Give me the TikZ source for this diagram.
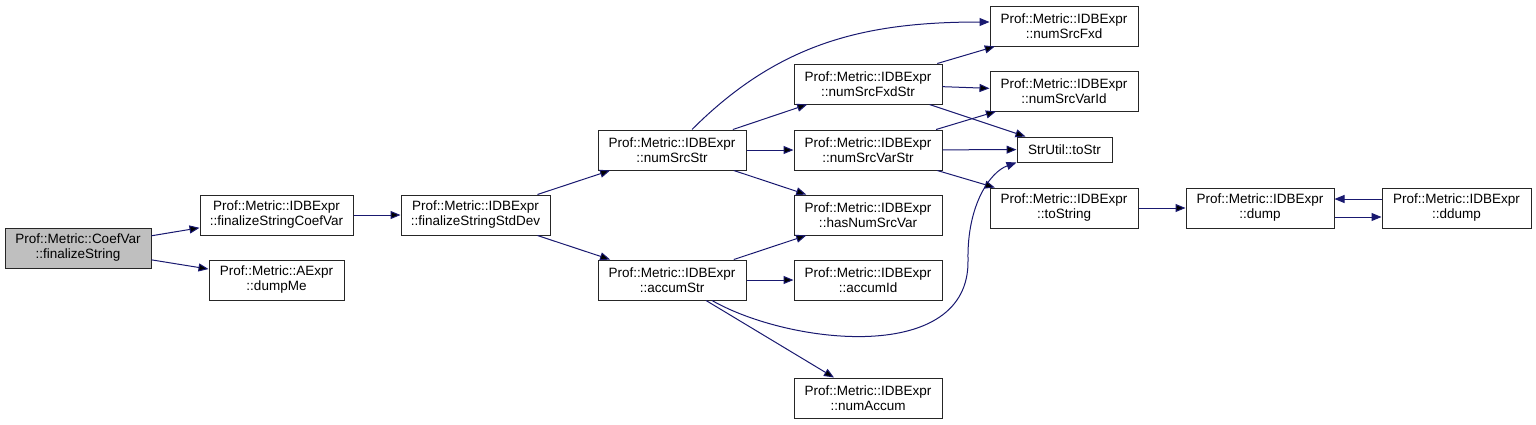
\documentclass[tikz,border=0pt]{standalone}
\usepackage{fontspec}
\setmainfont{Liberation Sans}
\usepackage{tikz}
\usetikzlibrary{arrows.meta}
\definecolor{edgeblue}{HTML}{191970}
\definecolor{startgray}{HTML}{BFBFBF}

\begin{document}
\begin{tikzpicture}[x=1pt,y=-1pt,
  fn/.style={draw=black!85,line width=1pt,minimum width=148pt,minimum height=40pt,inner sep=0pt,align=center,font=\fontsize{13.5}{15}\selectfont},
  call/.style={draw=edgeblue,line width=1pt,->,>={Triangle[length=10pt,width=8pt]}}]
\useasboundingbox (0,0) rectangle (1536,424);

\node[fn,fill=startgray,minimum width=146pt] (1) at (78,248) {Prof::Metric::CoefVar\\::finalizeString};

\node[fn,minimum width=153pt] (2) at (276.5,215) {Prof::Metric::IDBExpr\\::finalizeStringCoefVar};

\node[fn,minimum width=135pt] (3) at (276.5,280) {Prof::Metric::AExpr\\::dumpMe};

\node[fn,minimum width=149pt] (4) at (475.5,215) {Prof::Metric::IDBExpr\\::finalizeStringStdDev};

\node[fn] (5) at (672,150) {Prof::Metric::IDBExpr\\::numSrcStr};

\node[fn] (6) at (672,280) {Prof::Metric::IDBExpr\\::accumStr};

\node[fn] (7) at (868,84) {Prof::Metric::IDBExpr\\::numSrcFxdStr};

\node[fn] (8) at (868,150) {Prof::Metric::IDBExpr\\::numSrcVarStr};

\node[fn] (9) at (868,215) {Prof::Metric::IDBExpr\\::hasNumSrcVar};

\node[fn] (10) at (868,280) {Prof::Metric::IDBExpr\\::accumId};

\node[fn] (11) at (868,398) {Prof::Metric::IDBExpr\\::numAccum};

\node[fn] (12) at (1064,26) {Prof::Metric::IDBExpr\\::numSrcFxd};

\node[fn] (13) at (1064,91) {Prof::Metric::IDBExpr\\::numSrcVarId};

\node[fn,minimum width=95pt,minimum height=25pt] (14) at (1064.5,149.5) {StrUtil::toStr};

\node[fn] (15) at (1064,208) {Prof::Metric::IDBExpr\\::toString};

\node[fn] (16) at (1260,208) {Prof::Metric::IDBExpr\\::dump};

\node[fn,minimum width=149pt] (17) at (1456.5,208) {Prof::Metric::IDBExpr\\::ddump};


\draw[call] (1) edge[] (2) ;
\draw[call] (1) edge[] (3) ;
\draw[call] (2) edge[] (4) ;
\draw[call] (4) edge[] (5) ;
\draw[call] (4) edge[] (6) ;
\draw[call] ([xshift=20pt]5.north) to[out=45,in=180] ([yshift=4pt]12.west) ;
\draw[call] (5) edge[] (7) ;
\draw[call] (5) edge[] (8) ;
\draw[call] (5) edge[] (9) ;
\draw[call] (6) edge[] (9) ;
\draw[call] (6) edge[] (10) ;
\draw[call] (6) edge[] (11) ;
\draw[call] ([xshift=40pt]6.south) .. controls (790,345) and (970,365) .. (968,260)
  .. controls (967,205) and (990,172) .. (14.south west) ;
\draw[call] (7) edge[] (12) ;
\draw[call] (7) edge[] (13) ;
\draw[call] (7) edge[] (14) ;
\draw[call] (8) edge[] (13) ;
\draw[call] (8) edge[] (14) ;
\draw[call] (8) edge[] (15) ;
\draw[call] (15) edge[] (16) ;
\draw[call] ([yshift=-9pt]16.east) -- ([yshift=-9pt]17.west) ;
\draw[call] ([yshift=9pt]17.west) -- ([yshift=9pt]16.east) ;
\end{tikzpicture}
\end{document}
